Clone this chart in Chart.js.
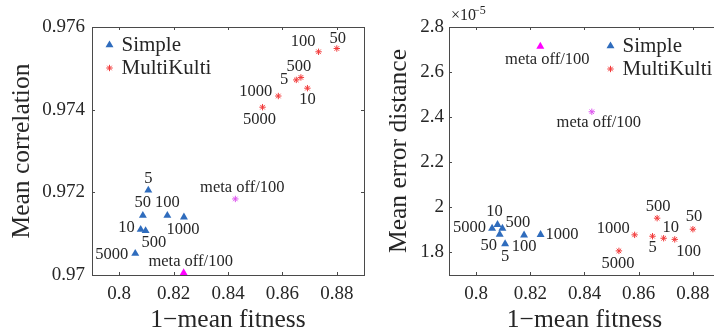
<!DOCTYPE html>
<html>
<head>
<meta charset="utf-8">
<script src="https://cdn.jsdelivr.net/npm/chart.js@4.4.1/dist/chart.umd.min.js"></script>
<style>
  html, body { margin: 0; padding: 0; background: #fff; width: 714px; height: 335px; overflow: hidden; }
  #left { position: absolute; left: 0; top: 0; width: 380px; height: 335px; }
  #right { position: absolute; left: 380px; top: 0; width: 345px; height: 335px; }
</style>
</head>
<body>
<canvas id="left" width="380" height="335"></canvas>
<canvas id="right" width="345" height="335"></canvas>
<script>
// population sizes used in both experiments
const runLabels = ['5', '10', '50', '100', '500', '1000', '5000'];
const metaLabel = 'meta off/100';

// Simple
const simpleFitness = [0.8107, 0.8079, 0.8087, 0.8177, 0.8097, 0.8238, 0.8059];
const simpleCorrelation = [0.97205, 0.97110, 0.97144, 0.97144, 0.97107, 0.97140, 0.97052];
const simpleErrorDist = [1.838, 1.923, 1.880, 1.877, 1.907, 1.879, 1.907]; // x1e-5

// MultiKulti
const mkFitness = [0.8651, 0.8692, 0.8800, 0.8733, 0.8668, 0.8585, 0.8527];
const mkCorrelation = [0.97472, 0.97452, 0.97548, 0.97540, 0.97478, 0.97433, 0.97406];
const mkErrorDist = [1.872, 1.863, 1.903, 1.858, 1.952, 1.878, 1.807]; // x1e-5

// meta off / 100
const simpleMetaFitness = [0.8237];
const simpleMetaCorrelation = [0.97005];
const simpleMetaErrorDist = [2.714];
const mkMetaFitness = [0.8427];
const mkMetaCorrelation = [0.97184];
const mkMetaErrorDist = [2.424];

// axes
const xTicks = [0.80, 0.82, 0.84, 0.86, 0.88];
const xTickLabels = ['0.8', '0.82', '0.84', '0.86', '0.88'];
const corrTicks = [0.970, 0.972, 0.974, 0.976];
const corrTickLabels = ['0.97', '0.972', '0.974', '0.976'];
const errTicks = [1.8, 2.0, 2.2, 2.4, 2.6, 2.8];
const errTickLabels = ['1.8', '2', '2.2', '2.4', '2.6', '2.8'];

const SERIF = '"Liberation Serif", "DejaVu Serif", serif';
const TEXT = '#262626';
const BLUE = '#2f6cbd';
const RED = '#f23a3a';

// where each label sits relative to its point: [align, dx, dy]
const leftSimplePlace = [['center',0,-12],['right',-6,-2],['center',0,-13],['center',0,-13],['left',-4,12],['center',-1,13],['right',-7,1]];
const leftMkPlace = [['right',-8,0],['center',0,11],['center',1,-10],['right',-3,-10],['center',-2,-11],['right',-6,-4],['center',-3,12]];
const rightSimplePlace = [['center',0,13],['center',-3,-13],['center',-11,11],['center',0,12],['left',3,-6],['left',5,0],['right',-6,-1]];
const rightMkPlace = [['center',0,11],['center',7,-11],['center',1,-13],['center',14,12],['center',1,-12],['right',-5,-6],['center',-1,13]];

function pts(xs, ys) {
    return xs.map((x, i) => ({ x: x, y: ys[i] }));
}

function makeDatasets(sy, my, smy, mmy, places) {
    return [
        { label: 'Simple', data: pts(simpleFitness, sy), pointStyle: 'triangle', pointRadius: 4.6,
          backgroundColor: BLUE, borderColor: BLUE, borderWidth: 0, names: runLabels, place: places[0] },
        { label: 'MultiKulti', data: pts(mkFitness, my), pointStyle: 'star', pointRadius: 3.2,
          backgroundColor: RED, borderColor: RED, borderWidth: 1, names: runLabels, place: places[1] },
        { label: 'metaS', data: pts(simpleMetaFitness, smy), pointStyle: 'triangle', pointRadius: 4.6,
          backgroundColor: '#ff00ff', borderColor: '#ff00ff', borderWidth: 0, names: [metaLabel], place: [places[2]] },
        { label: 'metaM', data: pts(mkMetaFitness, mmy), pointStyle: 'star', pointRadius: 3.2,
          backgroundColor: '#dd55ee', borderColor: '#dd55ee', borderWidth: 1, names: [metaLabel], place: [places[3]] }
    ];
}

// point labels, inward ticks, box and legend (MATLAB look)
const decorPlugin = {
    id: 'decor',
    afterDatasetsDraw(chart, args, opts) {
        const ctx = chart.ctx;
        const a = chart.chartArea;
        const xs = chart.scales.x, ys = chart.scales.y;
        ctx.save();
        // box
        ctx.strokeStyle = '#4a4a4a';
        ctx.lineWidth = 1;
        ctx.strokeRect(Math.round(a.left) + 0.5, Math.round(a.top) + 0.5,
                       Math.round(a.right - a.left), Math.round(a.bottom - a.top));
        // inward ticks
        ctx.beginPath();
        xs.ticks.forEach(t => {
            const px = Math.round(xs.getPixelForValue(t.value)) + 0.5;
            ctx.moveTo(px, a.bottom); ctx.lineTo(px, a.bottom - 3);
            ctx.moveTo(px, a.top); ctx.lineTo(px, a.top + 3);
        });
        ys.ticks.forEach(t => {
            const py = Math.round(ys.getPixelForValue(t.value)) + 0.5;
            ctx.moveTo(a.left, py); ctx.lineTo(a.left + 3, py);
            ctx.moveTo(a.right, py); ctx.lineTo(a.right - 3, py);
        });
        ctx.stroke();

        // labels next to points
        ctx.fillStyle = TEXT;
        ctx.font = '16.5px ' + SERIF;
        ctx.textBaseline = 'middle';
        chart.data.datasets.forEach((ds, i) => {
            const meta = chart.getDatasetMeta(i);
            meta.data.forEach((el, j) => {
                const p = ds.place[j];
                ctx.textAlign = p[0];
                ctx.fillText(ds.names[j], el.x + p[1], el.y + p[2]);
            });
        });

        // legend
        const lx = a.left + opts.legendX, ly = a.top + opts.legendY;
        [0, 1].forEach(k => {
            const ds = chart.data.datasets[k];
            ctx.fillStyle = ds.backgroundColor;
            ctx.strokeStyle = ds.borderColor;
            ctx.lineWidth = ds.borderWidth || 1;
            Chart.helpers.drawPoint(ctx, {
                pointStyle: ds.pointStyle, radius: ds.pointRadius, borderWidth: ds.borderWidth, rotation: 0
            }, lx, ly + k * 23);
        });
        ctx.fillStyle = TEXT;
        ctx.font = '21px ' + SERIF;
        ctx.textAlign = 'left';
        ctx.textBaseline = 'middle';
        ctx.fillText('Simple', lx + 12, ly);
        ctx.fillText('MultiKulti', lx + 12, ly + 23);

        if (opts.exponent) {
            ctx.font = '16px ' + SERIF;
            ctx.textBaseline = 'alphabetic';
            ctx.fillText('\u00d710', a.left + 2, a.top - 7);
            ctx.font = '12px ' + SERIF;
            ctx.fillText('\u22125', a.left + 24, a.top - 13);
        }
        ctx.restore();
    }
};

function makeChart(id, yMin, yMax, yTicks, yTickLabels, yTitle, datasets, geo) {
    return new Chart(document.getElementById(id), {
        type: 'scatter',
        data: { datasets: datasets },
        plugins: [decorPlugin],
        options: {
            responsive: false,
            animation: false,
            events: [],
            layout: { padding: { left: 0, top: 27, right: geo.padRight, bottom: 0 } },
            datasets: { scatter: { clip: false } },
            plugins: {
                legend: { display: false },
                tooltip: { enabled: false },
                decor: { legendX: geo.legendX, legendY: geo.legendY, exponent: geo.exponent }
            },
            scales: {
                x: {
                    type: 'linear', min: 0.79, max: 0.89,
                    afterBuildTicks: s => { s.ticks = xTicks.map(v => ({ value: v })); },
                    afterFit: s => { s.height = 60; },
                    grid: { display: false, drawTicks: false },
                    border: { display: false },
                    ticks: {
                        color: TEXT, padding: 8, maxRotation: 0,
                        font: { family: SERIF, size: 19 },
                        callback: (v, i) => xTickLabels[i]
                    },
                    title: {
                        display: true, text: '1\u2212mean fitness', color: TEXT,
                        font: { family: SERIF, size: 25.5 }, padding: { top: 0, bottom: -1 }
                    }
                },
                y: {
                    type: 'linear', min: yMin, max: yMax,
                    afterBuildTicks: s => { s.ticks = yTicks.map(v => ({ value: v })); },
                    afterFit: s => { s.width = geo.yWidth; },
                    grid: { display: false, drawTicks: false },
                    border: { display: false },
                    ticks: {
                        color: TEXT, padding: geo.tickPad,
                        font: { family: SERIF, size: 19 },
                        callback: (v, i) => yTickLabels[i]
                    },
                    title: {
                        display: true, text: yTitle, color: TEXT,
                        font: { family: SERIF, size: 25.5 }, padding: { top: geo.titlePad, bottom: 0 }
                    }
                }
            }
        }
    });
}

makeChart('left', 0.970, 0.976, corrTicks, corrTickLabels, 'Mean correlation',
    makeDatasets(simpleCorrelation, mkCorrelation, simpleMetaCorrelation, mkMetaCorrelation,
        [leftSimplePlace, leftMkPlace, ['center', 7, -11], ['center', 7, -11]]),
    { padRight: 16, yWidth: 92, tickPad: 7, titlePad: 7, legendX: 17.5, legendY: 18, exponent: false });

makeChart('right', 1.7, 2.8, errTicks, errTickLabels, 'Mean error distance',
    makeDatasets(simpleErrorDist, mkErrorDist, simpleMetaErrorDist, mkMetaErrorDist,
        [rightSimplePlace, rightMkPlace, ['center', 7, 13], ['center', 7, 11]]),
    { padRight: 4, yWidth: 69, tickPad: 5, titlePad: 4, legendX: 161.5, legendY: 19, exponent: true });
</script>
</body>
</html>
